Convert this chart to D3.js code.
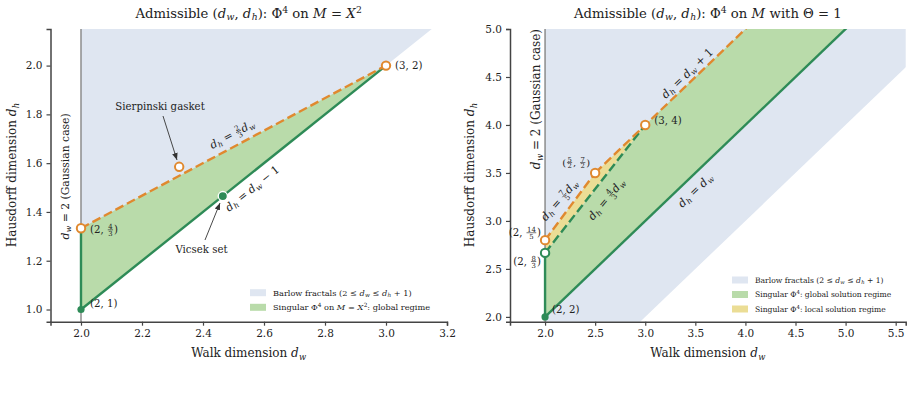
<!DOCTYPE html>
<html>
<head>
<meta charset="UTF-8">
<title>Admissible (d_w, d_h)</title>
<style>
	body { margin: 0; background: #fff; }
	text { font-family: "DejaVu Serif", serif; fill: #222; white-space: pre; }
	.tick text { font-size: 10.5px; }
</style>
</head>
<body>
<script src="https://d3js.org/d3.v7.min.js"></script>
<script>
'use strict';

// ---- data ----
var leftXTicks = [2.0, 2.2, 2.4, 2.6, 2.8, 3.0, 3.2];
var leftYTicks = [1.0, 1.2, 1.4, 1.6, 1.8, 2.0];
var rightXTicks = [2.0, 2.5, 3.0, 3.5, 4.0, 4.5, 5.0, 5.5];
var rightYTicks = [2.0, 2.5, 3.0, 3.5, 4.0, 4.5, 5.0];

// Barlow region: d_w >= 2 and d_h >= d_w - 1 (clipped to the axes)
var barlowRegion = [[2, 1], [2, 10], [11, 10]];

// left: M = X^2
var leftGlobalRegion = [[2, 1], [2, 4/3], [3, 2]];
var leftGreenLines = [[[2, 1], [2, 4/3]], [[2, 1], [3, 2]]];
var leftOrangeDashed = [[[2, 4/3], [3, 2]]];
var leftOpenOrange = [[2, 4/3], [3, 2], [Math.log(5) / Math.log(2), Math.log(3) / Math.log(2)]];
var leftGreenDots = [[2, 1]];
var vicsek = [Math.log(15) / Math.log(3), Math.log(5) / Math.log(3)];

// right: Theta = 1
var rightGlobalRegion = [[2, 2], [2, 8/3], [3, 4], [4, 5], [5, 5]];
var rightLocalRegion = [[2, 8/3], [2, 14/5], [2.5, 3.5], [3, 4]];
var rightGreenLines = [[[2, 2], [2, 8/3]], [[2, 2], [10, 10]]];
var rightGreenDashed = [[[2, 8/3], [3, 4]]];
var rightOrangeDashed = [[[2, 14/5], [2.5, 3.5]], [[2.5, 3.5], [10, 11]]];
var rightOpenOrange = [[2, 14/5], [2.5, 3.5], [3, 4]];
var rightOpenGreen = [[2, 8/3]];
var rightGreenDots = [[2, 2]];

var C = {
	blue: "#dfe6f1", green: "#b9dbaa", yellow: "#ebdd95",
	gline: "#2e8b57", orange: "#e0892f", gray: "#8c8c8c"
};

var svg = d3.select("body").append("svg")
	.attr("width", 913)
	.attr("height", 415);

svg.append("defs").append("marker")
		.attr("id", "arrow")
		.attr("viewBox", "0 0 10 10")
		.attr("refX", 10).attr("refY", 5)
		.attr("markerWidth", 7).attr("markerHeight", 7)
		.attr("markerUnits", "userSpaceOnUse")
		.attr("orient", "auto")
	.append("path")
		.attr("d", "M0,1 L10,5 L0,9 z")
		.attr("fill", "#333");

// tokens: t = upright, i = italic, sub, sup, frac
function drawMath(parent, tokens, size, x, y, anchor, rot) {
	var outer = parent.append("g")
		.attr("transform", "translate(" + x + "," + y + ") rotate(" + (rot || 0) + ")");
	var inner = outer.append("g");
	var cx = 0;
	tokens.forEach(function(tok){
		var kind = tok[0], val = tok[1];
		if (kind === "frac") {
			var fs = size * 0.68;
			var n = inner.append("text").attr("font-size", fs).attr("text-anchor", "middle").text(val[0]);
			var d = inner.append("text").attr("font-size", fs).attr("text-anchor", "middle").text(val[1]);
			var w = Math.max(n.node().getComputedTextLength(), d.node().getComputedTextLength()) + size * 0.25;
			var mid = cx + w / 2, ax = -size * 0.3;
			n.attr("x", mid).attr("y", ax - size * 0.1);
			d.attr("x", mid).attr("y", ax + size * 0.1 + fs * 0.72);
			inner.append("line")
				.attr("x1", cx + size * 0.08).attr("x2", cx + w - size * 0.08)
				.attr("y1", ax).attr("y2", ax)
				.attr("stroke", "#222").attr("stroke-width", size * 0.06);
			cx += w;
			return;
		}
		var small = kind === "sub" || kind === "sup";
		var t = inner.append("text")
			.attr("x", cx)
			.attr("y", kind === "sub" ? size * 0.2 : kind === "sup" ? -size * 0.38 : 0)
			.attr("font-size", small ? size * 0.7 : size)
			.attr("font-style", (kind === "i" || kind === "sub") ? "italic" : null)
			.text(val);
		cx += t.node().getComputedTextLength();
		if (kind === "i") cx += size * 0.03;
	});
	inner.attr("transform", "translate(" + (-anchor * cx) + "," + (size * 0.36) + ")");
	return outer;
}

var dw = [["i", "d"], ["sub", "w"]];
var dh = [["i", "d"], ["sub", "h"]];
var barlowLabel = [["t", "Barlow fractals (2 ≤ "]].concat(dw, [["t", " ≤ "]], dh, [["t", " + 1)"]]);
var gaussLabel = dw.concat([["t", " = 2 (Gaussian case)"]]);

function panel(cfg) {
	var x = d3.scaleLinear().domain(cfg.xdom).range(cfg.xr);
	var y = d3.scaleLinear().domain(cfg.ydom).range([321.7, 29]);
	var g = svg.append("g");
	var clipId = "clip" + cfg.id;
	svg.select("defs").append("clipPath").attr("id", clipId)
		.append("rect")
			.attr("x", cfg.xr[0]).attr("y", 29)
			.attr("width", cfg.xr[1] - cfg.xr[0]).attr("height", 321.7 - 29);
	var plot = g.append("g").attr("clip-path", "url(#" + clipId + ")");
	var line = d3.line().x(function(d){ return x(d[0]); }).y(function(d){ return y(d[1]); });

	cfg.regions.forEach(function(r){
		plot.append("path").attr("d", line(r.pts) + "Z").attr("fill", r.color);
	});
	plot.append("path").attr("d", line([[2, 0], [2, 10]]))
		.attr("stroke", C.gray).attr("stroke-width", 1.5).attr("fill", "none");
	cfg.lines.forEach(function(l){
		plot.selectAll(null).data(l.data).enter().append("path")
			.attr("d", line)
			.attr("fill", "none")
			.attr("stroke", l.color)
			.attr("stroke-width", 2.4)
			.attr("stroke-dasharray", l.dash ? "9,4" : null);
	});

	// axes
	g.append("g")
		.attr("transform", "translate(0,321.7)")
		.call(d3.axisBottom(x).tickValues(cfg.xticks).tickFormat(d3.format(".1f")).tickSizeOuter(0).tickSize(4).tickPadding(4))
		.call(styleAxis);
	g.append("g")
		.attr("transform", "translate(" + cfg.xr[0] + ",0)")
		.call(d3.axisLeft(y).tickValues(cfg.yticks).tickFormat(d3.format(".1f")).tickSizeOuter(0).tickSize(4).tickPadding(4))
		.call(styleAxis);

	// markers
	var mk = g.append("g");
	mk.selectAll(null).data(cfg.openOrange).enter().append("circle")
		.attr("cx", function(d){ return x(d[0]); }).attr("cy", function(d){ return y(d[1]); })
		.attr("r", 4.2).attr("fill", "#fff").attr("stroke", C.orange).attr("stroke-width", 2);
	mk.selectAll(null).data(cfg.openGreen || []).enter().append("circle")
		.attr("cx", function(d){ return x(d[0]); }).attr("cy", function(d){ return y(d[1]); })
		.attr("r", 4.2).attr("fill", "#fff").attr("stroke", C.gline).attr("stroke-width", 2);
	mk.selectAll(null).data(cfg.greenDots).enter().append("circle")
		.attr("cx", function(d){ return x(d[0]); }).attr("cy", function(d){ return y(d[1]); })
		.attr("r", 3.6).attr("fill", C.gline);

	cfg.extra(g, x, y);

	// texts
	cfg.labels.forEach(function(l){
		var px = x(l.at[0]) + (l.dx || 0), py = y(l.at[1]) + (l.dy || 0);
		var rot = 0;
		if (l.slope !== undefined) {
			rot = Math.atan2(y(l.slope) - y(0), x(1) - x(0)) * 180 / Math.PI;
		}
		if (l.rot !== undefined) rot = l.rot;
		drawMath(g, l.tokens, l.size, px, py, l.anchor === undefined ? 0.5 : l.anchor, rot);
	});

	var mid = (cfg.xr[0] + cfg.xr[1]) / 2;
	drawMath(g, cfg.title, 13.2, mid, 13, 0.5, 0);
	drawMath(g, [["t", "Walk dimension "]].concat(dw), 12, mid, 353, 0.5, 0);
	drawMath(g, [["t", "Hausdorff dimension "]].concat(dh), 12, cfg.ylabX, 175, 0.5, -90);

	// legend
	var lg = g.append("g");
	cfg.legend.items.forEach(function(it, i){
		var yy = cfg.legend.y + i * cfg.legend.step;
		lg.append("rect")
			.attr("x", cfg.legend.x).attr("y", yy - 3.5)
			.attr("width", 16).attr("height", 7).attr("fill", it.color);
		drawMath(lg, it.tokens, cfg.legend.size, cfg.legend.x + 23, yy, 0, 0);
	});
}

function styleAxis(sel) {
	sel.select(".domain").attr("stroke", "#444").attr("stroke-width", 1.5);
	sel.selectAll(".tick line").attr("stroke", "#444").attr("stroke-width", 1.2);
	sel.selectAll(".tick text").attr("fill", "#222").style("font-family", "DejaVu Serif");
}

function arrow(g, x1, y1, x2, y2) {
	g.append("line")
		.attr("x1", x1).attr("y1", y1).attr("x2", x2).attr("y2", y2)
		.attr("stroke", "#333").attr("stroke-width", 0.9)
		.attr("marker-end", "url(#arrow)");
}

panel({
	id: "L",
	xdom: [1.9, 3.2], xr: [50.5, 447], ydom: [0.95, 2.15],
	xticks: leftXTicks, yticks: leftYTicks, ylabX: 12,
	regions: [{pts: barlowRegion, color: C.blue}, {pts: leftGlobalRegion, color: C.green}],
	lines: [
		{data: leftGreenLines, color: C.gline},
		{data: leftOrangeDashed, color: C.orange, dash: true}
	],
	openOrange: leftOpenOrange,
	greenDots: leftGreenDots,
	extra: function(g, x, y){
		g.append("circle")
			.attr("cx", x(vicsek[0])).attr("cy", y(vicsek[1]))
			.attr("r", 4.6).attr("fill", C.gline).attr("stroke", "#fff").attr("stroke-width", 1.3);
		arrow(g, 163, 116, 177, 160);
		arrow(g, 205, 240, 220, 203);
	},
	labels: [
		{tokens: [["t", "(3, 2)"]], size: 10.2, at: [3, 2], dx: 9, anchor: 0},
		{tokens: [["t", "(2, "], ["frac", ["4", "3"]], ["t", ")"]], size: 10.2, at: [2, 4/3], dx: 9, dy: 1, anchor: 0},
		{tokens: [["t", "(2, 1)"]], size: 10.2, at: [2, 1], dx: 9, dy: -6, anchor: 0},
		{tokens: [["t", "Sierpinski gasket"]], size: 10.2, at: [2.259, 1.833]},
		{tokens: [["t", "Vicsek set"]], size: 10.2, at: [2.395, 1.246]},
		{tokens: dh.concat([["t", " = "], ["frac", ["2", "3"]]], dw), size: 10.8, at: [2.495, 1.719], slope: 2/3},
		{tokens: dh.concat([["t", " = "]], dw, [["t", " − 1"]]), size: 11, at: [2.561, 1.497], slope: 1},
		{tokens: gaussLabel, size: 10.8, at: [1.948, 1.546], rot: -90}
	],
	title: [["t", "Admissible ("]].concat(dw, [["t", ", "]], dh, [["t", "): Φ"], ["sup", "4"], ["t", " on "], ["i", "M"], ["t", " = "], ["i", "X"], ["sup", "2"]]),
	legend: {x: 250, y: 292.7, step: 14.6, size: 8.2, items: [
		{color: C.blue, tokens: barlowLabel},
		{color: C.green, tokens: [["t", "Singular Φ"], ["sup", "4"], ["t", " on "], ["i", "M"], ["t", " = "], ["i", "X"], ["sup", "2"], ["t", ": global regime"]]}
	]}
});

panel({
	id: "R",
	xdom: [1.65, 5.6], xr: [510, 905.7], ydom: [1.95, 5.0],
	xticks: rightXTicks, yticks: rightYTicks, ylabX: 470,
	regions: [{pts: barlowRegion, color: C.blue}, {pts: rightGlobalRegion, color: C.green}, {pts: rightLocalRegion, color: C.yellow}],
	lines: [
		{data: rightGreenLines, color: C.gline},
		{data: rightGreenDashed, color: C.gline, dash: true},
		{data: rightOrangeDashed, color: C.orange, dash: true}
	],
	openOrange: rightOpenOrange,
	openGreen: rightOpenGreen,
	greenDots: rightGreenDots,
	extra: function(){},
	labels: [
		{tokens: [["t", "(3, 4)"]], size: 10.2, at: [3, 4], dx: 9, dy: -5, anchor: 0},
		{tokens: [["t", "("], ["frac", ["5", "2"]], ["t", ", "], ["frac", ["7", "2"]], ["t", ")"]], size: 10, at: [2.5, 3.5], dx: -19, dy: -11},
		{tokens: [["t", "(2, "], ["frac", ["14", "5"]], ["t", ")"]], size: 10.2, at: [2, 14/5], dx: -4, dy: -8, anchor: 1},
		{tokens: [["t", "(2, "], ["frac", ["8", "3"]], ["t", ")"]], size: 10.2, at: [2, 8/3], dx: -4, dy: 8, anchor: 1},
		{tokens: [["t", "(2, 2)"]], size: 10.2, at: [2, 2], dx: 7, dy: -8, anchor: 0},
		{tokens: dh.concat([["t", " = "], ["frac", ["7", "5"]]], dw), size: 11, at: [2.14, 3.217], rot: -49},
		{tokens: dh.concat([["t", " = "], ["frac", ["4", "3"]]], dw), size: 11, at: [2.609, 3.227], rot: -50},
		{tokens: dh.concat([["t", " = "]], dw, [["t", " + 1"]]), size: 11.2, at: [3.417, 4.541], slope: 1},
		{tokens: dh.concat([["t", " = "]], dw), size: 11.2, at: [3.497, 3.321], slope: 1},
		{tokens: gaussLabel, size: 12, at: [1.91, 4.27], rot: -90}
	],
	title: [["t", "Admissible ("]].concat(dw, [["t", ", "]], dh, [["t", "): Φ"], ["sup", "4"], ["t", " on "], ["i", "M"], ["t", " with Θ = 1"]]),
	legend: {x: 732, y: 280, step: 14.5, size: 7.6, items: [
		{color: C.blue, tokens: barlowLabel},
		{color: C.green, tokens: [["t", "Singular Φ"], ["sup", "4"], ["t", ": global solution regime"]]},
		{color: C.yellow, tokens: [["t", "Singular Φ"], ["sup", "4"], ["t", ": local solution regime"]]}
	]}
});
</script>
</body>
</html>
